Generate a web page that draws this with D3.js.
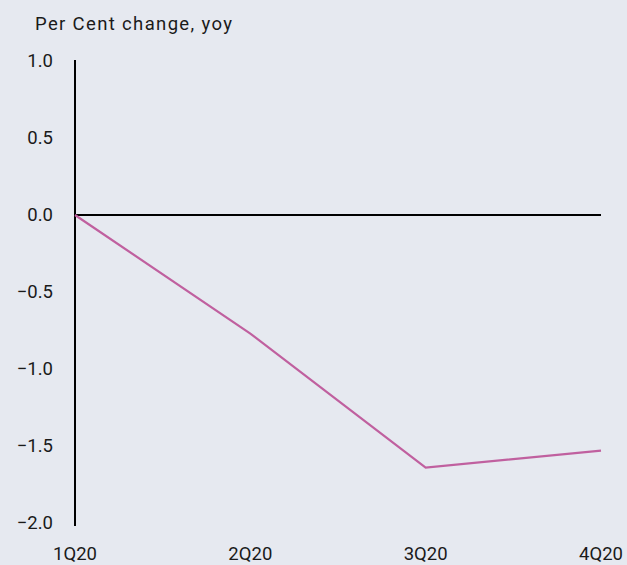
<!DOCTYPE html>
<html>
<head>
<meta charset="utf-8">
<script src="https://cdn.jsdelivr.net/npm/d3@7"></script>
<style>
  html, body { margin: 0; padding: 0; background: #e6e9f0; }
  svg { display: block; }
  text { font-family: Roboto, "Noto Sans", sans-serif; fill: #1a1a1a; }
</style>
</head>
<body>
<svg id="chart" width="627" height="565"></svg>
<script>
const categories = ["1Q20", "2Q20", "3Q20", "4Q20"];
const seriesValues = [0, -0.77, -1.64, -1.53];
const yTicks = [1.0, 0.5, 0.0, -0.5, -1.0, -1.5, -2.0];
const yAxisTitle = "Per Cent change, yoy";

const width = 627, height = 565;
const svg = d3.select("#chart");
svg.append("rect").attr("width", width).attr("height", height).attr("fill", "#e6e9f0");

const x = d3.scalePoint().domain(categories).range([75, 601]);
const y = d3.scaleLinear().domain([-2, 1]).range([523, 61]);

// y axis line
svg.append("line")
  .attr("x1", 75).attr("x2", 75)
  .attr("y1", y(1) - 1).attr("y2", y(-2) + 3)
  .attr("stroke", "#000").attr("stroke-width", 2);

// zero line
svg.append("line")
  .attr("x1", x(categories[0])).attr("x2", x(categories[categories.length - 1]))
  .attr("y1", y(0)).attr("y2", y(0))
  .attr("stroke", "#000").attr("stroke-width", 2);

// y tick labels
svg.selectAll(".ylab").data(yTicks).enter().append("text")
  .attr("class", "ylab")
  .attr("x", 53)
  .attr("y", d => y(d))
  .attr("dy", "0.35em")
  .attr("text-anchor", "end")
  .attr("font-size", 18.5)
  .text(d => d3.format(".1f")(d));

// x labels
svg.selectAll(".xlab").data(categories).enter().append("text")
  .attr("class", "xlab")
  .attr("x", d => x(d))
  .attr("y", 560)
  .attr("text-anchor", "middle")
  .attr("font-size", 18.5)
  .text(d => d);

// title
svg.append("text")
  .attr("x", 35).attr("y", 30)
  .attr("font-size", 18.5)
  .attr("letter-spacing", 1.35)
  .text(yAxisTitle);

// series line
const line = d3.line()
  .x((d, i) => x(categories[i]))
  .y(d => y(d));
svg.append("path")
  .datum(seriesValues)
  .attr("d", line)
  .attr("fill", "none")
  .attr("stroke", "#c0609f")
  .attr("stroke-width", 2.2);
</script>
</body>
</html>
